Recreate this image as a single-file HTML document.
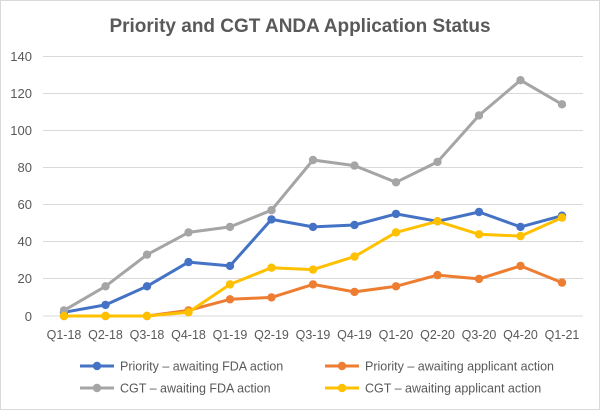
<!DOCTYPE html>
<html><head><meta charset="utf-8"><style>
body{margin:0;background:#fff}
svg{display:block;font-family:"Liberation Sans",Arial,sans-serif}
</style></head><body>
<svg width="600" height="410" viewBox="0 0 600 410" xmlns="http://www.w3.org/2000/svg">
<defs>
<marker id="mb" markerUnits="userSpaceOnUse" markerWidth="10" markerHeight="10" refX="5" refY="5"><circle cx="5" cy="5" r="4.2" fill="#4472C4"/></marker>
<marker id="mo" markerUnits="userSpaceOnUse" markerWidth="10" markerHeight="10" refX="5" refY="5"><circle cx="5" cy="5" r="4.2" fill="#ED7D31"/></marker>
<marker id="mg" markerUnits="userSpaceOnUse" markerWidth="10" markerHeight="10" refX="5" refY="5"><circle cx="5" cy="5" r="4.2" fill="#A5A5A5"/></marker>
<marker id="my" markerUnits="userSpaceOnUse" markerWidth="10" markerHeight="10" refX="5" refY="5"><circle cx="5" cy="5" r="4.2" fill="#FFC000"/></marker>
</defs>
<rect x="0.5" y="0.5" width="599" height="409" fill="#fff" stroke="#d9d9d9"/>
<text x="300" y="32" text-anchor="middle" font-size="19" font-weight="bold" fill="#595959">Priority and CGT ANDA Application Status</text>
<g stroke="#d9d9d9" stroke-width="1">
<line x1="43" x2="583" y1="56.5" y2="56.5"/><line x1="43" x2="583" y1="93.5" y2="93.5"/>
<line x1="43" x2="583" y1="130.5" y2="130.5"/><line x1="43" x2="583" y1="167.5" y2="167.5"/>
<line x1="43" x2="583" y1="204.5" y2="204.5"/><line x1="43" x2="583" y1="241.5" y2="241.5"/>
<line x1="43" x2="583" y1="278.5" y2="278.5"/><line x1="43" x2="583" y1="316" y2="316"/>
</g>
<g font-size="13" fill="#595959" text-anchor="end">
<text x="32" y="61">140</text><text x="32" y="98">120</text><text x="32" y="135">100</text>
<text x="32" y="172">80</text><text x="32" y="209">60</text><text x="32" y="246">40</text>
<text x="32" y="283">20</text><text x="32" y="321">0</text>
</g>
<g font-size="12.5" fill="#595959" text-anchor="middle">
<text x="64" y="339">Q1-18</text><text x="105.5" y="339">Q2-18</text><text x="147" y="339">Q3-18</text>
<text x="188.5" y="339">Q4-18</text><text x="230" y="339">Q1-19</text><text x="271.5" y="339">Q2-19</text>
<text x="313" y="339">Q3-19</text><text x="354.5" y="339">Q4-19</text><text x="396" y="339">Q1-20</text>
<text x="437.5" y="339">Q2-20</text><text x="479" y="339">Q3-20</text><text x="520.5" y="339">Q4-20</text>
<text x="562" y="339">Q1-21</text>
</g>
<g fill="none" stroke-width="3" stroke-linejoin="round">
<polyline stroke="#4472C4" marker-start="url(#mb)" marker-mid="url(#mb)" marker-end="url(#mb)" points="64,312.3 105.5,304.9 147,286.3 188.5,262.1 230,265.9 271.5,219.4 313,226.9 354.5,225 396,213.9 437.5,221.3 479,212 520.5,226.9 562,215.7"/>
<polyline stroke="#ED7D31" marker-start="url(#mo)" marker-mid="url(#mo)" marker-end="url(#mo)" points="64,316 105.5,316 147,316 188.5,310.4 230,299.3 271.5,297.4 313,284.4 354.5,291.9 396,286.3 437.5,275.1 479,278.9 520.5,265.9 562,282.6"/>
<polyline stroke="#A5A5A5" marker-start="url(#mg)" marker-mid="url(#mg)" marker-end="url(#mg)" points="64,310.4 105.5,286.3 147,254.7 188.5,232.4 230,226.9 271.5,210.2 313,160 354.5,165.6 396,182.3 437.5,161.9 479,115.4 520.5,80.2 562,104.3"/>
<polyline stroke="#FFC000" marker-start="url(#my)" marker-mid="url(#my)" marker-end="url(#my)" points="64,316 105.5,316 147,316 188.5,312.3 230,284.4 271.5,267.7 313,269.6 354.5,256.6 396,232.4 437.5,221.3 479,234.3 520.5,236.1 562,217.6"/>
</g>
<g font-size="12.5" fill="#595959">
<line x1="80" x2="114" y1="366" y2="366" stroke="#4472C4" stroke-width="3"/><circle cx="97" cy="366" r="4.2" fill="#4472C4"/>
<text x="120" y="370.5">Priority – awaiting FDA action</text>
<line x1="325" x2="359" y1="366" y2="366" stroke="#ED7D31" stroke-width="3"/><circle cx="342" cy="366" r="4.2" fill="#ED7D31"/>
<text x="365" y="370.5">Priority – awaiting applicant action</text>
<line x1="80" x2="114" y1="388" y2="388" stroke="#A5A5A5" stroke-width="3"/><circle cx="97" cy="388" r="4.2" fill="#A5A5A5"/>
<text x="120" y="392.5">CGT – awaiting FDA action</text>
<line x1="325" x2="359" y1="388" y2="388" stroke="#FFC000" stroke-width="3"/><circle cx="342" cy="388" r="4.2" fill="#FFC000"/>
<text x="365" y="392.5">CGT – awaiting applicant action</text>
</g>
</svg>
</body></html>
